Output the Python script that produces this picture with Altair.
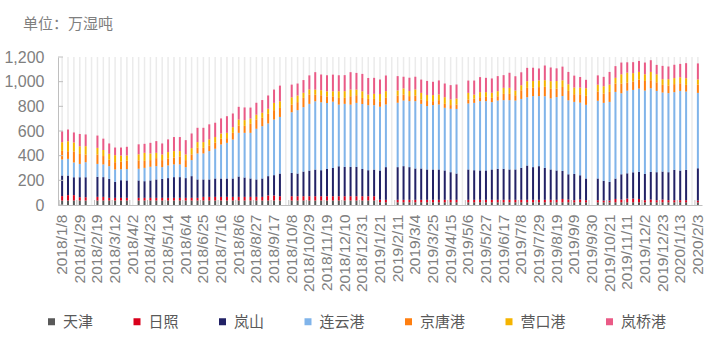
import altair as alt
import pandas as pd

# weekly categories 2018/1/8 .. 2020/2/3
weeks = pd.date_range("2018-01-08", periods=109, freq="7D")
dates = [f"{d.year}/{d.month}/{d.day}" for d in weeks]
label_dates = dates[::3]

series = ["天津", "日照", "岚山", "连云港", "京唐港", "营口港", "岚桥港"]
colors = ["#595959", "#d9001b", "#222266", "#80b4ea", "#ff7f11", "#f5b400", "#ea5a86"]
y_ticks = [0, 200, 400, 600, 800, 1000, 1200]
title_text = "单位：万湿吨"

N = None
tianjin = [36, 36, 36, 36, 36, N, 36, 36, 36, 36,
           36, 36, N, 36, 36, 36, 36, 36, 36, 36,
           36, 36, 36, 36, 36, 36, 36, 36, 36, 36,
           36, 36, 36, 36, 36, 36, 36, 36, N, 36,
           36, 36, 36, 36, 36, 36, 36, 36, 36, 36,
           36, 36, 36, 36, 22, 22, N, 22, 22, 22,
           22, 22, 22, 22, 22, 22, 22, 22, N, 22,
           22, 22, 22, 22, 22, 22, 22, 22, 22, 22,
           22, 22, 22, 22, 22, 22, 22, 22, 22, 22,
           N, 22, 22, 22, 22, 22, 22, 22, 22, 22,
           22, 22, 22, 22, 22, 22, 22, N, 22]
rizhao = [36, 44, 44, 27, 27, N, 30, 30, 22, 22,
          22, 22, N, 22, 22, 22, 22, 22, 22, 22,
          22, 22, 22, 22, 30, 30, 30, 30, 30, 30,
          30, 30, 30, 30, 30, 41, 41, 35, N, 35,
          35, 35, 35, 35, 35, 35, 35, 35, 35, 35,
          35, 35, 35, 35, 20, 20, N, 20, 20, 20,
          20, 20, 20, 20, 20, 20, 20, 20, N, 20,
          20, 20, 20, 20, 20, 20, 20, 20, 20, 20,
          20, 20, 20, 20, 20, 27, 22, 17, 22, 17,
          N, 17, 14, 14, 27, 22, 30, 30, 27, 17,
          22, 17, 22, 17, 17, 17, 17, N, 14]
lanshan = [167, 159, 145, 162, 162, N, 162, 160, 154, 130,
           143, 141, N, 141, 135, 141, 149, 154, 160, 168,
           168, 160, 176, 149, 141, 141, 149, 149, 149, 149,
           165, 157, 149, 141, 149, 157, 165, 184, N, 189,
           184, 200, 208, 216, 211, 221, 229, 243, 238, 238,
           238, 221, 211, 216, 238, 265, N, 265, 273, 265,
           254, 254, 246, 246, 246, 238, 224, 213, N, 246,
           240, 238, 238, 246, 251, 251, 246, 246, 259, 278,
           265, 273, 259, 246, 238, 227, 205, 213, 197, 176,
           N, 176, 160, 151, 165, 205, 205, 213, 219, 213,
           224, 227, 227, 227, 246, 240, 246, N, 262]
lianyungang = [130, 135, 120, 108, 122, N, 105, 103, 103, 100,
               89, 92, N, 95, 108, 111, 108, 95, 103, 103,
               103, 89, 130, 211, 211, 230, 241, 276, 289, 316,
               354, 362, 370, 411, 424, 427, 451, 459, N, 492,
               514, 522, 541, 554, 551, 535, 538, 500, 511, 505,
               519, 527, 527, 522, 516, 508, N, 522, 532, 535,
               546, 524, 514, 522, 527, 508, 514, 524, N, 535,
               546, 562, 562, 546, 554, 557, 562, 559, 559, 554,
               576, 568, 581, 576, 595, 608, 600, 584, 589, 597,
               N, 630, 632, 649, 703, 657, 670, 668, 676, 676,
               678, 659, 641, 641, 630, 646, 635, N, 611]
jingtang = [70, 62, 89, 81, 62, N, 76, 68, 54, 59,
            62, 68, N, 68, 57, 54, 65, 57, 57, 57,
            62, 57, 46, 46, 46, 46, 49, 46, 38, 54,
            59, 57, 73, 76, 68, 78, 76, 73, N, 62,
            65, 76, 76, 54, 57, 54, 43, 54, 49, 68,
            62, 49, 51, 51, 46, 54, N, 59, 49, 41,
            46, 35, 41, 32, 35, 32, 30, 35, N, 32,
            35, 32, 35, 35, 35, 51, 51, 43, 70, 76,
            68, 73, 76, 78, 68, 73, 76, 62, 68, 73,
            N, 76, 76, 81, 68, 78, 65, 68, 73, 78,
            65, 70, 62, 62, 65, 62, 54, N, 68]
yingkou = [70, 81, 73, 62, 68, N, 54, 49, 46, 57,
           49, 43, N, 49, 65, 54, 43, 46, 51, 51,
           46, 46, 51, 46, 46, 49, 46, 43, 43, 46,
           49, 46, 43, 38, 41, 41, 59, 54, N, 59,
           54, 41, 41, 41, 41, 41, 41, 54, 54, 54,
           46, 54, 35, 41, 59, 54, N, 41, 49, 41,
           49, 54, 49, 49, 46, 54, 46, 49, N, 54,
           32, 41, 38, 41, 41, 49, 49, 38, 41, 54,
           54, 54, 54, 62, 62, 54, 54, 54, 54, 62,
           N, 54, 59, 59, 46, 76, 81, 68, 62, 54,
           68, 65, 46, 51, 49, 49, 54, N, 41]
lanqiao = [89, 95, 81, 100, 95, N, 100, 92, 84, 62,
           65, 70, N, 81, 73, 86, 95, 89, 103, 114,
           114, 116, 119, 116, 116, 122, 116, 122, 135, 111,
           103, 103, 89, 97, 103, 108, 108, 127, N, 103,
           97, 103, 114, 141, 127, 130, 135, 130, 130, 141,
           135, 141, 135, 130, 116, 127, N, 116, 95, 108,
           103, 108, 114, 108, 114, 111, 116, 114, N, 100,
           114, 122, 116, 116, 122, 103, 122, 116, 105, 108,
           108, 97, 119, 111, 103, 111, 100, 97, 86, 68,
           N, 76, 76, 103, 95, 95, 84, 89, 89, 95,
           95, 76, 108, 103, 108, 108, 122, N, 130]

all_vals = [tianjin, rizhao, lanshan, lianyungang, jingtang, yingkou, lanqiao]
rows = []
for k, (name, vals) in enumerate(zip(series, all_vals)):
    for d, v in zip(dates, vals):
        if v is not None:
            rows.append({"date": d, "series": name, "k": k, "value": v})
df = pd.DataFrame(rows)

W, H = 644, 148
AX_COLOR = "#bfbfbf"
LABEL_COLOR = "#7f7f7f"

xscale = alt.Scale(domain=dates, paddingInner=0, paddingOuter=0.2)
xaxis = alt.Axis(values=label_dates, labelAngle=270, labelFontSize=15.5,
                 labelColor=LABEL_COLOR, labelFont="Liberation Sans",
                 labelPadding=9, ticks=False, domainColor=AX_COLOR,
                 grid=False, title=None, labelOverlap=False)
yscale = alt.Scale(domain=[0, 1200], nice=False)
yaxis = alt.Axis(values=y_ticks, format=",.0f", labelFontSize=16,
                 labelColor=LABEL_COLOR, labelFont="Liberation Sans",
                 labelPadding=14, ticks=False, domainColor=AX_COLOR,
                 grid=False, title=None)

grid = alt.Chart(pd.DataFrame({"date": dates})).mark_rule(
    color="#ebebeb", strokeWidth=1.5
).encode(
    x=alt.X("date:N", scale=xscale, axis=xaxis),
    y=alt.value(0), y2=alt.value(H)
)

bars = alt.Chart(df).mark_bar(size=2).encode(
    x=alt.X("date:N", scale=xscale, axis=xaxis),
    y=alt.Y("value:Q", stack="zero", scale=yscale, axis=yaxis),
    color=alt.Color("series:N", scale=alt.Scale(domain=series, range=colors),
                    legend=alt.Legend(title=None, orient="none", legendX=-14, legendY=257,
                                      direction="horizontal", columns=7,
                                      symbolType="square", symbolSize=49,
                                      symbolStrokeWidth=0, labelFontSize=15,
                                      labelFont="Noto Sans CJK SC",
                                      labelColor="#595959", labelOffset=4,
                                      columnPadding=35.5)),
    order=alt.Order("k:Q", sort="ascending")
)

xt = alt.Chart(pd.DataFrame({"date": label_dates})).mark_rule(color=AX_COLOR).encode(
    x=alt.X("date:N", scale=xscale, axis=xaxis, bandPosition=0),
    y=alt.value(H - 5), y2=alt.value(H)
)

yt = alt.Chart(pd.DataFrame({"v": y_ticks})).mark_rule(color=AX_COLOR).encode(
    y=alt.Y("v:Q", scale=yscale, axis=yaxis),
    x=alt.value(0), x2=alt.value(5)
)

title = alt.Chart(pd.DataFrame({"t": [title_text]})).mark_text(
    align="left", baseline="middle", fontSize=15, font="Noto Sans CJK SC", color=LABEL_COLOR
).encode(text="t:N", x=alt.value(-35), y=alt.value(-33))

chart = alt.layer(grid, bars, xt, yt, title).properties(
    width=W, height=H,
    autosize=alt.AutoSizeParams(type="none"),
    padding={"left": 58, "top": 57, "right": 10, "bottom": 134}
).configure_view(stroke=None)

chart.save("out.html", embed_options={"renderer": "svg", "actions": False})
